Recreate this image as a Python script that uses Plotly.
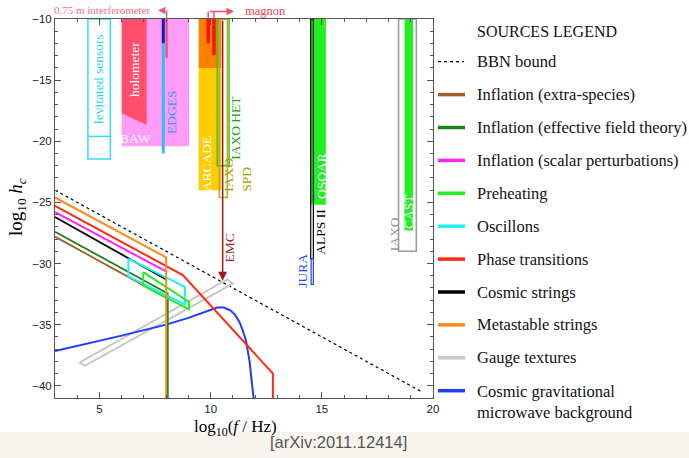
import plotly.graph_objects as go

# ---------------- data ----------------
x_ticks = [5, 10, 15, 20]
y_ticks = [-40, -35, -30, -25, -20, -15, -10]

# sources (lines)
bbn_x = [3, 19.45]
bbn_y = [-24.0, -40.45]
infl_es_x = [3, 8.05, 8.05]
infl_es_y = [-27.8, -32.85, -41]
infl_eft_x = [3, 8.07, 8.07]
infl_eft_y = [-27.4, -32.45, -41]
infl_sp_x = [3, 8.0]
infl_sp_y = [-25.8, -30.65]
cs_x = [3, 8.0]
cs_y = [-26.2, -31.3]
pt_x = [3, 8.75, 12.8, 12.8]
pt_y = [-25.28, -30.95, -39.0, -41]
ms_x = [3, 8.0, 8.0]
ms_y = [-24.6, -29.5, -41]
osc_x = [6.3, 8.84, 8.84, 6.3, 6.3]
osc_y = [-29.6, -31.9, -33.35, -31.05, -29.6]
preh_x = [6.97, 9.03, 9.03, 6.97, 6.97]
preh_y = [-30.7, -33.15, -33.75, -31.8, -30.7]
gauge_x = [4.1, 10.75, 11.0, 4.35, 4.1]
gauge_y = [-38.1, -31.3, -31.65, -38.35, -38.1]
cmb_x = [3, 4, 5, 6, 7, 8, 9, 9.5, 10, 10.3, 10.6, 10.9, 11.1, 11.3, 11.45, 11.6, 11.75, 11.85, 11.93]
cmb_y = [-37.15, -36.75, -36.35, -35.9, -35.45, -35.0, -34.45, -34.1, -33.75, -33.6, -33.6,
         -33.85, -34.2, -34.8, -35.5, -36.4, -38.0, -39.5, -41]

# detectors
lev_x = [4.48, 5.49]
lev_y = [-10, -21.45]
lev_inner_y = -19.6
holo_x = [6.0, 7.12, 7.12, 6.0, 6.0]
holo_y = [-10, -10, -18.66, -17.7, -10]
baw_x = [6.0, 9.03]
baw_y = [-10, -20.4]
edges_x = 7.87
edges_dark_y = [-10, -12.0]
edges_light_y = [-12.0, -21.0]
interf_x = 8.02
interf_y = [-10, -13.2]
arcade_x = [9.46, 10.48]
arcade_top_y = [-10, -14.0]
arcade_low_y = [-14.0, -24.0]
magnon_x = [9.89, 10.15]
magnon_bottom_y = [-11.97, -12.93]
iaxo_het_x = [10.3, 10.83]
iaxo_het_y = [-10, -22.0]
iaxo_spd_x = [10.39, 10.75]
iaxo_spd_y = [-10, -24.6]
emc_x = 10.54
emc_y = [-10, -31.4]
osqar_x = [14.47, 15.18]
osqar_y = [-10, -25.2]
alps_x = [14.5, 14.62]
alps_y = [-10, -29.6]
jura_x = [14.52, 14.62]
jura_y = [-29.6, -31.7]
cast_x = [18.72, 19.1]
cast_y = [-10, -27.3]
iaxo_x = [18.45, 19.25]
iaxo_y = [-10, -29.0]

legend_labels = ["BBN bound", "Inflation (extra-species)", "Inflation (effective field theory)",
                 "Inflation (scalar perturbations)", "Preheating", "Oscillons", "Phase transitions",
                 "Cosmic strings", "Metastable strings", "Gauge textures",
                 "Cosmic gravitational<br>microwave background"]

# ---------------- styles ----------------
C_BROWN = "#a0602a"
C_DGREEN = "#1c801c"
C_MAG = "#ff22ff"
C_LGREEN = "#22ee22"
C_CYAN = "#22eef8"
C_RED = "#ff2a10"
C_BLACK = "#000000"
C_ORANGE = "#ff8c1a"
C_GRAY = "#c8c8c8"
C_BLUE = "#1e3cff"
legend_colors = ["#000000", C_BROWN, C_DGREEN, C_MAG, C_LGREEN, C_CYAN, C_RED, C_BLACK, C_ORANGE, C_GRAY, C_BLUE]

W, H = 689, 458
L, R, T, B = 55, 256, 19, 60
PW, PH = W - L - R, H - T - B


def px(xp):
    return (xp - L) / PW


def py(yp):
    return (H - B - yp) / PH


SERIF = "Liberation Serif"
fig = go.Figure()


def rect(x, y, fill=None, line=None, lw=1.5):
    xs = [x[0], x[1], x[1], x[0], x[0]]
    ys = [y[0], y[0], y[1], y[1], y[0]]
    if fill:
        fig.add_trace(go.Scatter(x=xs, y=ys, mode="lines", fill="toself", fillcolor=fill,
                                 line=dict(width=0, color=fill), hoverinfo="skip", showlegend=False))
    if line:
        fig.add_trace(go.Scatter(x=xs, y=ys, mode="lines", line=dict(width=lw, color=line),
                                 hoverinfo="skip", showlegend=False))


def vline(x, y, color, w):
    fig.add_trace(go.Scatter(x=[x, x], y=y, mode="lines", line=dict(color=color, width=w),
                             hoverinfo="skip", showlegend=False))


def path(x, y, color, w, dash=None):
    fig.add_trace(go.Scatter(x=x, y=y, mode="lines", line=dict(color=color, width=w, dash=dash),
                             hoverinfo="skip", showlegend=False))


# detectors
rect(lev_x, lev_y, line="#33dff0", lw=1.5)
path(lev_x, [lev_inner_y, lev_inner_y], "#33dff0", 1.5)
rect(baw_x, baw_y, fill="#ff9cf8")
fig.add_trace(go.Scatter(x=holo_x, y=holo_y, mode="lines", fill="toself", fillcolor="#ff4f6c",
                         line=dict(width=0, color="#ff4f6c"), hoverinfo="skip", showlegend=False))
vline(edges_x, edges_dark_y, "#1414d8", 3)
vline(edges_x, edges_light_y, "#33bbff", 3)
vline(interf_x, interf_y, "#e0607a", 2.5)
rect(arcade_x, arcade_top_y, fill="#ff8000")
rect(arcade_x, arcade_low_y, fill="#ffcc00")
for mx, mb in zip(magnon_x, magnon_bottom_y):
    vline(mx, [-10, mb], "#ff1010", 3.5)
rect(iaxo_het_x, iaxo_het_y, line="#44bb22", lw=1.5)
rect(iaxo_spd_x, iaxo_spd_y, line="#b0b020", lw=1.5)
rect(osqar_x, osqar_y, fill="#22ee22")
rect(alps_x, alps_y, line="#000000", lw=1.2)
rect(jura_x, jura_y, line="#2040ff", lw=1.2)
rect(cast_x, cast_y, fill="#22ee22")
rect(iaxo_x, iaxo_y, line="#999999", lw=1.5)

# sources
path(bbn_x, bbn_y, "#000000", 1.2, "dot")
path(gauge_x, gauge_y, C_GRAY, 2)
path(cmb_x, cmb_y, C_BLUE, 2)
path(infl_es_x, infl_es_y, C_BROWN, 1.8)
path(infl_eft_x, infl_eft_y, C_DGREEN, 1.8)
path(infl_sp_x, infl_sp_y, C_MAG, 2)
path(cs_x, cs_y, C_BLACK, 1.8)
path(osc_x, osc_y, C_CYAN, 2)
path(preh_x, preh_y, C_LGREEN, 2)
path(pt_x, pt_y, C_RED, 2)
path(ms_x, ms_y, C_ORANGE, 2)

shapes = []
annotations = []


def note(x, y, text, size, color, family=SERIF, xanchor="center", yanchor="middle", **kw):
    d = dict(x=x, y=y, xref="paper", yref="paper", text=text, showarrow=False,
             xanchor=xanchor, yanchor=yanchor, font=dict(family=family, size=size, color=color))
    d.update(kw)
    annotations.append(d)


# EMC arrow
annotations.append(dict(x=emc_x, y=emc_y[1], ax=emc_x, ay=emc_y[0], axref="x", ayref="y",
                        xref="x", yref="y", text="", showarrow=True, arrowhead=2, arrowsize=1.2,
                        arrowwidth=1.5, arrowcolor="#a01818"))

# connectors above plot
top_conn = py(10.5)
shapes.append(dict(type="line", xref="x", yref="paper", x0=interf_x, x1=interf_x,
                   y0=1.0, y1=top_conn, line=dict(color="#e0607a", width=1.5)))
annotations.append(dict(x=px(158), y=top_conn, xref="paper", yref="paper", ax=8, ay=0, text="",
                        showarrow=True, arrowhead=2, arrowsize=1, arrowwidth=1.5, arrowcolor="#e0607a"))
note(px(153), py(10.5), "0.75 m interferometer", 11, "#f07080", xanchor="right")
mag_conn = py(11.5)
for mx in magnon_x:
    shapes.append(dict(type="line", xref="x", yref="paper", x0=mx, x1=mx, y0=1.0, y1=mag_conn,
                       line=dict(color="#f05060", width=1.5)))
annotations.append(dict(x=px(234), y=mag_conn, xref="paper", yref="paper", ax=-(234 - 208.5), ay=0,
                        text="", showarrow=True, arrowhead=2, arrowsize=1, arrowwidth=1.5,
                        arrowcolor="#f05060"))
note(px(243), py(11), "magnon", 12.5, "#f04050", xanchor="left")

# detector labels (x, y, text, color, angle)
det_labels = [
    (4.98, -14.9, "levitated sensors", "#22d8f0", -90),
    (6.55, -14.1, "holometer", "#ffffff", -90),
    (6.64, -19.75, "BAW", "#ffffff", 0),
    (8.26, -17.6, "EDGES", "#3399ff", -90),
    (9.79, -21.8, "ARCADE", "#ffffff", -90),
    (11.14, -18.9, "IAXO HET", "#22a022", -90),
    (10.87, -28.7, "EMC", "#a82020", -90),
    (14.96, -22.85, "OSQAR", "#ffffff", -90),
    (14.96, -27.4, "ALPS II", "#000000", -90),
    (14.15, -30.6, "JURA", "#2244ff", -90),
    (18.92, -25.7, "CAST", "#ffffff", -90),
    (18.25, -27.6, "IAXO", "#999999", -90),
]
for lx, ly, txt, col, ang in det_labels:
    annotations.append(dict(x=lx, y=ly, xref="x", yref="y", text=txt, showarrow=False,
                            xanchor="center", yanchor="middle",
                            textangle=ang, font=dict(family=SERIF, size=13.5, color=col)))
annotations.append(dict(x=11.23, y=-24.3, xref="x", yref="y", text="IAXO<br>SPD", showarrow=False,
                        textangle=-90, align="left", xanchor="center", yanchor="bottom",
                        font=dict(family=SERIF, size=13.5, color="#a0a000")))

# axis titles
note(px(17), py(207), "log<sub>10</sub> <i>h</i><sub><i>c</i></sub>", 19, "#000", textangle=-90)
note(px(235), py(428), "log<sub>10</sub>(<i>f</i> / Hz)", 17, "#000")

# legend
note(px(475), py(31), "SOURCES LEGEND", 16, "#111", xanchor="left")
for i, (lab, col) in enumerate(zip(legend_labels, legend_colors)):
    yc = 61.7 + i * 32.9
    if i == 0:
        shapes.append(dict(type="line", xref="paper", yref="paper", x0=px(438), x1=px(464),
                           y0=py(yc), y1=py(yc), line=dict(color=col, width=1.2, dash="dot")))
    else:
        shapes.append(dict(type="line", xref="paper", yref="paper", x0=px(438), x1=px(465),
                           y0=py(yc), y1=py(yc), line=dict(color=col, width=3.5)))
    if "<br>" in lab:
        note(px(475), py(yc - 11), lab, 16.5, "#111", xanchor="left", yanchor="top", align="left")
    else:
        note(px(475), py(yc), lab, 16.5, "#111", xanchor="left")

# footer band and citation
shapes.append(dict(type="rect", xref="paper", yref="paper", x0=px(0), x1=px(W), y0=py(H), y1=py(432),
                   fillcolor="#f8f5f0", line=dict(width=0), layer="below"))
note(px(338), py(442), "[arXiv:2011.12414]", 16.5, "#555", family="Liberation Sans")

axis_common = dict(showgrid=False, zeroline=False, showline=True, linecolor="#555", linewidth=1,
                   mirror="ticks", ticks="inside", ticklen=6, tickcolor="#555", tickwidth=1,
                   tickfont=dict(family="Liberation Sans", size=11.5, color="#222"))
fig.update_layout(
    width=W, height=H, margin=dict(l=L, r=R, t=T, b=B),
    paper_bgcolor="white", plot_bgcolor="white", showlegend=False,
    xaxis=dict(range=[3, 20], tickvals=x_ticks, minor=dict(dtick=1, ticks="inside", ticklen=3,
                                                           tickcolor="#555"), **axis_common),
    yaxis=dict(range=[-41, -10], tickvals=y_ticks, minor=dict(dtick=1, ticks="inside", ticklen=3,
                                                              tickcolor="#555"), **axis_common),
    shapes=shapes, annotations=annotations,
)
fig.write_html("out.html")
